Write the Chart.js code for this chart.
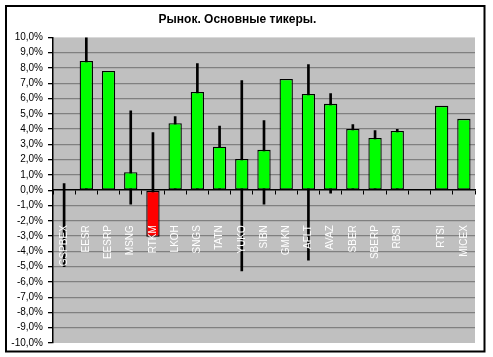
<!DOCTYPE html>
<html>
<head>
<meta charset="utf-8">
<script src="https://cdn.jsdelivr.net/npm/chart.js@4"></script>
<style>
  html, body { margin: 0; padding: 0; background: #ffffff; }
  #wrap { position: relative; width: 493px; height: 357px; }
</style>
</head>
<body>
<div id="wrap"><canvas id="c" width="493" height="357"></canvas></div>
<script>
const categories = ['GSPBEX','EESR','EESRP','MSNG','RTKM','LKOH','SNGS','TATN','YUKO','SIBN','GMKN','AFLT','AVAZ','SBER','SBERP','RBSI','','RTSI','MICEX'];
const changeValues = [null, 8.46, 7.8, 1.18, -3.05, 4.38, 6.43, 2.84, 2.05, 2.64, 7.28, 6.3, 5.65, 4.01, 3.42, 3.88, null, 5.52, 4.67];
const lowValues  = [-5.0, 0, null, -0.92, -2.0, 0, 0, 0, -5.29, -0.92, null, -4.58, -0.2, 0, 0, 0, null, null, null];
const highValues = [0.44, 10.3, null, 5.2, 3.77, 4.82, 8.28, 4.2, 7.17, 4.56, null, 8.22, 6.32, 4.29, 3.9, 3.99, null, null, null];
const yTicksMin = -10;
const yTicksMax = 10;

const rangeData = lowValues.map((lo, i) => (lo === null || highValues[i] === null) ? null : [lo, highValues[i]]);
const barColors = changeValues.map(v => (v !== null && v < 0) ? '#FF0000' : '#00FF00');

const bgPlugin = {
  id: 'bg',
  beforeDraw(chart) {
    const {ctx, chartArea: a} = chart;
    ctx.save();
    ctx.fillStyle = '#C0C0C0';
    ctx.fillRect(a.left, a.top, a.right - a.left, a.bottom - a.top);
    ctx.restore();
  },
  afterDatasetsDraw(chart) {
    // category labels drawn inside the plot, below the zero line, rotated
    const ctx = chart.ctx;
    const xs = chart.scales.x, ys = chart.scales.y;
    const y0 = ys.getPixelForValue(0) + 35;
    ctx.save();
    ctx.fillStyle = '#FFFFFF';
    ctx.font = '10px Arial, "Liberation Sans"';
    ctx.textAlign = 'right';
    ctx.textBaseline = 'middle';
    chart.data.labels.forEach((lab, i) => {
      if (!lab) return;
      const x = xs.getPixelForValue(i);
      ctx.save();
      ctx.translate(x, y0);
      ctx.rotate(-Math.PI / 2);
      ctx.fillText(lab, 0, 0);
      ctx.restore();
    });
    ctx.restore();
  },
  afterDraw(chart) {
    const ctx = chart.ctx;
    ctx.save();
    ctx.strokeStyle = '#000000';
    ctx.lineWidth = 2;
    ctx.strokeRect(6, 6, 478.5, 345.5);
    ctx.restore();
  }
};

new Chart(document.getElementById('c'), {
  type: 'bar',
  data: {
    labels: categories,
    datasets: [
      {
        label: 'change',
        data: changeValues,
        backgroundColor: barColors,
        borderColor: '#000000',
        borderWidth: 1.3,
        borderSkipped: false,
        categoryPercentage: 1,
        barPercentage: 0.6,
        grouped: false
      },
      {
        label: 'range',
        data: rangeData,
        backgroundColor: '#000000',
        borderWidth: 0,
        barThickness: 2,
        grouped: false
      }
    ]
  },
  options: {
    responsive: false,
    animation: false,
    devicePixelRatio: 1,
    layout: { padding: { left: 0, right: 18, top: 0, bottom: 14 } },
    plugins: {
      legend: { display: false },
      tooltip: { enabled: false },
      title: {
        display: true,
        text: 'Рынок. Основные тикеры.',
        color: '#000000',
        font: { family: 'Arial, "Liberation Sans"', size: 12, weight: 'bold' },
        padding: { top: 12, bottom: 11 }
      }
    },
    scales: {
      x: {
        position: { y: 0 },
        offset: true,
        afterFit(scale) { scale.paddingLeft = 0; scale.paddingRight = 0; },
        grid: {
          display: true,
          offset: true,
          drawOnChartArea: false,
          drawTicks: true,
          tickLength: 4,
          color: '#000000',
          tickColor: '#000000'
        },
        border: { display: true, color: '#000000', width: 1.5 },
        ticks: {
          display: false,
          autoSkip: false
        }
      },
      y: {
        min: yTicksMin,
        max: yTicksMax,
        afterFit(scale) { scale.width = 53; },
        grid: {
          color: (ctx) => (ctx.tick && (ctx.tick.value === yTicksMax || ctx.tick.value === yTicksMin || ctx.tick.value === 0)) ? 'rgba(0,0,0,0)' : '#808080',
          tickColor: '#000000',
          tickLength: 5,
          lineWidth: 1.3
        },
        border: { display: true, color: '#000000', width: 1.5 },
        ticks: {
          stepSize: 1,
          padding: 5,
          color: '#000000',
          font: { family: 'Arial, "Liberation Sans"', size: 10 },
          callback: (v) => v.toFixed(1).replace('.', ',') + '%'
        }
      }
    }
  },
  plugins: [bgPlugin]
});
</script>
</body>
</html>
